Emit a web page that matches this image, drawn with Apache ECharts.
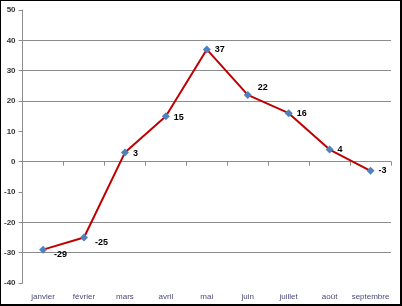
<!DOCTYPE html>
<html><head><meta charset="utf-8">
<script src="https://cdn.jsdelivr.net/npm/echarts@6/dist/echarts.min.js"></script>
<style>
html,body{margin:0;padding:0;background:#fff;}
#c{width:402px;height:306px;box-sizing:border-box;border-top:1px solid #000;border-left:1px solid #000;border-right:2px solid #000;border-bottom:2px solid #000;}
</style></head>
<body><div id="c"></div>
<script>
const categories = ['janvier','février','mars','avril','mai','juin','juillet','août','septembre'];
const values = [-29, -25, 3, 15, 37, 22, 16, 4, -3];
const yTicks = [-40, -30, -20, -10, 0, 10, 20, 30, 40, 50];
const labelOffsets = [[3,5],[3,5],[0,1],[0,1],[0,0],[2,-7],[0,0],[0,0],[0,0]];

const chart = echarts.init(document.getElementById('c'), null, {renderer:'canvas'});
const gridColors = yTicks.map(v => ([-30,-20,20,30,40].includes(v) ? '#8c8c8c' : 'rgba(0,0,0,0)'));
chart.setOption({
  animation:false,
  grid:{left:21, right:9, top:9, bottom:21, containLabel:false},
  xAxis:[{
    type:'category', data:categories, boundaryGap:true, position:'bottom',
    axisLine:{show:false, onZero:false}, axisTick:{show:false},
    axisLabel:{fontSize:8, color:'#4a4a7a', margin:10, fontFamily:'Liberation Sans, Arial', interval:0}
  },{
    type:'category', data:categories, boundaryGap:true, position:'bottom',
    axisLine:{show:true, onZero:true, lineStyle:{color:'#8c8c8c', width:1}},
    axisTick:{show:true, inside:false, length:4, interval:0, lineStyle:{color:'#8c8c8c'}},
    axisLabel:{show:false}
  }],
  yAxis:{
    type:'value', min:-40, max:50, interval:10,
    axisLine:{show:true, lineStyle:{color:'#8c8c8c', width:1}},
    axisTick:{show:true, length:4, lineStyle:{color:'#8c8c8c'}},
    axisLabel:{fontSize:8, color:'#333', margin:7, fontFamily:'Liberation Sans, Arial', fontWeight:'bold'},
    splitLine:{show:true, lineStyle:{color:gridColors, width:1}}
  },
  series:[{
    type:'line', data:values.map((v,i)=>({value:v, label:{offset:labelOffsets[i]}})),
    xAxisIndex:0,
    lineStyle:{color:'#c00000', width:2},
    symbol:'diamond', symbolSize:8,
    itemStyle:{color:'#4f81bd'},
    label:{show:true, position:'right', distance:4, fontSize:9, fontWeight:'bold', color:'#000', fontFamily:'Liberation Sans, Arial'}
  }]
});
</script></body></html>
